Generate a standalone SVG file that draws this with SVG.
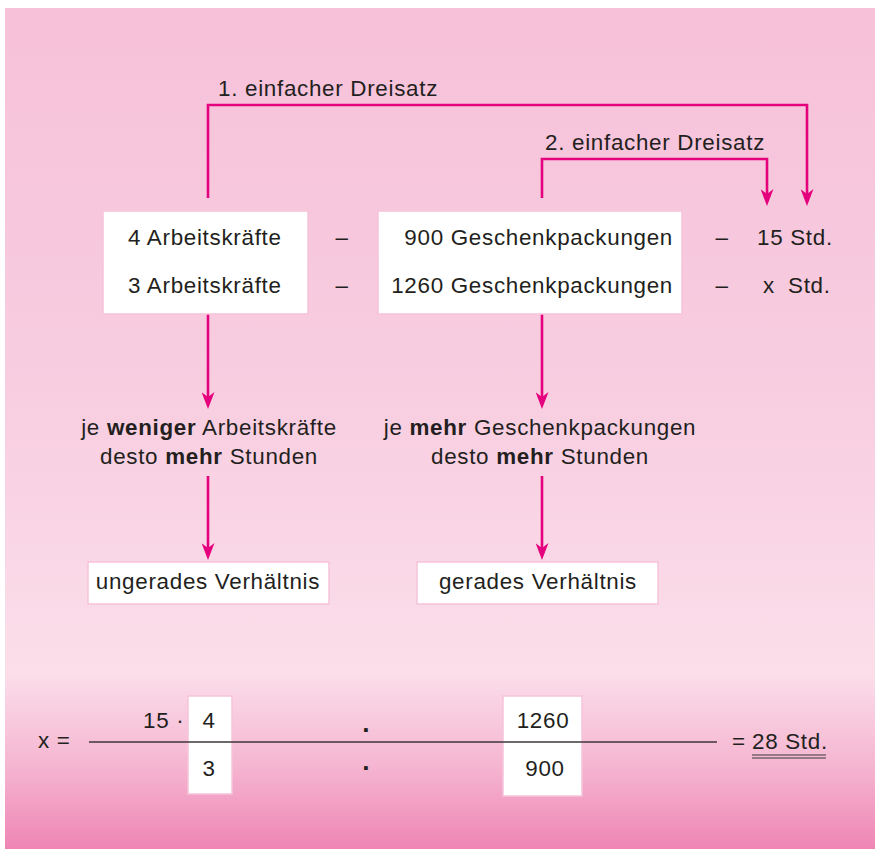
<svg xmlns="http://www.w3.org/2000/svg" width="875" height="849" viewBox="0 0 875 849">
<style>
text{font-family:"Liberation Sans",Arial,Helvetica,sans-serif;font-size:22.4px;fill:#231f20;letter-spacing:0.7px}
.b{font-weight:bold}
.box{fill:#ffffff;stroke:#f6c3da;stroke-width:1.5}
.con{fill:none;stroke:#e5007d;stroke-width:2.6}
.m{text-anchor:middle}
.e{text-anchor:end}
.ln{stroke:#3c3638;stroke-width:1.6;fill:none}
</style>
<defs>
<linearGradient id="bg" x1="0" y1="8" x2="0" y2="849" gradientUnits="userSpaceOnUse">
<stop offset="0" stop-color="#f6c1d9"/>
<stop offset="0.45" stop-color="#f8cde0"/>
<stop offset="0.79" stop-color="#fbdeea"/>
<stop offset="0.9" stop-color="#f5b6d1"/>
<stop offset="1" stop-color="#ef85b5"/>
</linearGradient>
<marker id="ah" viewBox="0 0 17 13" refX="9" refY="6.5" markerWidth="17" markerHeight="13" markerUnits="userSpaceOnUse" orient="auto">
<path d="M0,0 L17,6.5 L0,13 L5,6.5 z" fill="#e5007d"/>
</marker>
</defs>
<rect x="5" y="8" width="870" height="841" fill="url(#bg)"/>

<g id="connectors">
<path class="con" d="M208,198 V105 H807 V198" marker-end="url(#ah)"/>
<path class="con" d="M542,198 V159 H767 V198" marker-end="url(#ah)"/>
<path class="con" d="M208,314 V401" marker-end="url(#ah)"/>
<path class="con" d="M542,314 V401" marker-end="url(#ah)"/>
<path class="con" d="M208,476 V552" marker-end="url(#ah)"/>
<path class="con" d="M542,476 V552" marker-end="url(#ah)"/>
</g>

<g id="label1"><text x="218" y="96">1. einfacher Dreisatz</text></g>
<g id="label2"><text x="545" y="150">2. einfacher Dreisatz</text></g>

<g id="arbeitskraefte">
<rect class="box" x="103" y="211" width="205" height="103"/>
<text x="128" y="245">4 Arbeitskräfte</text>
<text x="128" y="293">3 Arbeitskräfte</text>
</g>
<g id="dash1">
<text class="m" x="342" y="245">–</text>
<text class="m" x="342" y="293">–</text>
</g>
<g id="geschenkpackungen">
<rect class="box" x="378" y="211" width="304" height="103"/>
<text class="e" x="673" y="245">900 Geschenkpackungen</text>
<text class="e" x="673" y="293">1260 Geschenkpackungen</text>
</g>
<g id="dash2">
<text class="m" x="722" y="245">–</text>
<text class="m" x="722" y="293">–</text>
</g>
<g id="stunden">
<text x="757" y="245">15 Std.</text>
<text y="293"><tspan x="763">x</tspan><tspan x="788">Std.</tspan></text>
</g>

<g id="regel1">
<text class="m" x="209" y="435">je <tspan class="b">weniger</tspan> Arbeitskräfte</text>
<text class="m" x="209" y="464">desto <tspan class="b">mehr</tspan> Stunden</text>
</g>
<g id="regel2">
<text class="m" x="540" y="435">je <tspan class="b">mehr</tspan> Geschenkpackungen</text>
<text class="m" x="540" y="464">desto <tspan class="b">mehr</tspan> Stunden</text>
</g>

<g id="ungerade">
<rect class="box" x="88" y="562" width="241" height="42"/>
<text class="m" x="208" y="589">ungerades Verhältnis</text>
</g>
<g id="gerade">
<rect class="box" x="417" y="562" width="241" height="42"/>
<text class="m" x="538" y="589">gerades Verhältnis</text>
</g>

<g id="formel">
<rect class="box" x="188" y="696" width="44" height="98"/>
<rect class="box" x="503" y="696" width="79" height="100"/>
<line class="ln" x1="89" y1="742" x2="717" y2="742"/>
<text x="38" y="748">x =</text>
<text x="143" y="728">15 ·</text>
<text class="m" x="209" y="728">4</text>
<text class="m" x="209" y="776">3</text>
<text class="m b" x="367" y="739" style="font-size:26px">·</text>
<text class="m b" x="367" y="777" style="font-size:26px">·</text>
<text class="m" x="543" y="728">1260</text>
<text class="m" x="545" y="776">900</text>
<text x="732" y="749">= <tspan x="752">28 Std.</tspan></text>
<line x1="752" y1="755" x2="826" y2="755" stroke="#3c3638" stroke-width="1"/>
<line x1="752" y1="758" x2="826" y2="758" stroke="#3c3638" stroke-width="1"/>
</g>
</svg>
